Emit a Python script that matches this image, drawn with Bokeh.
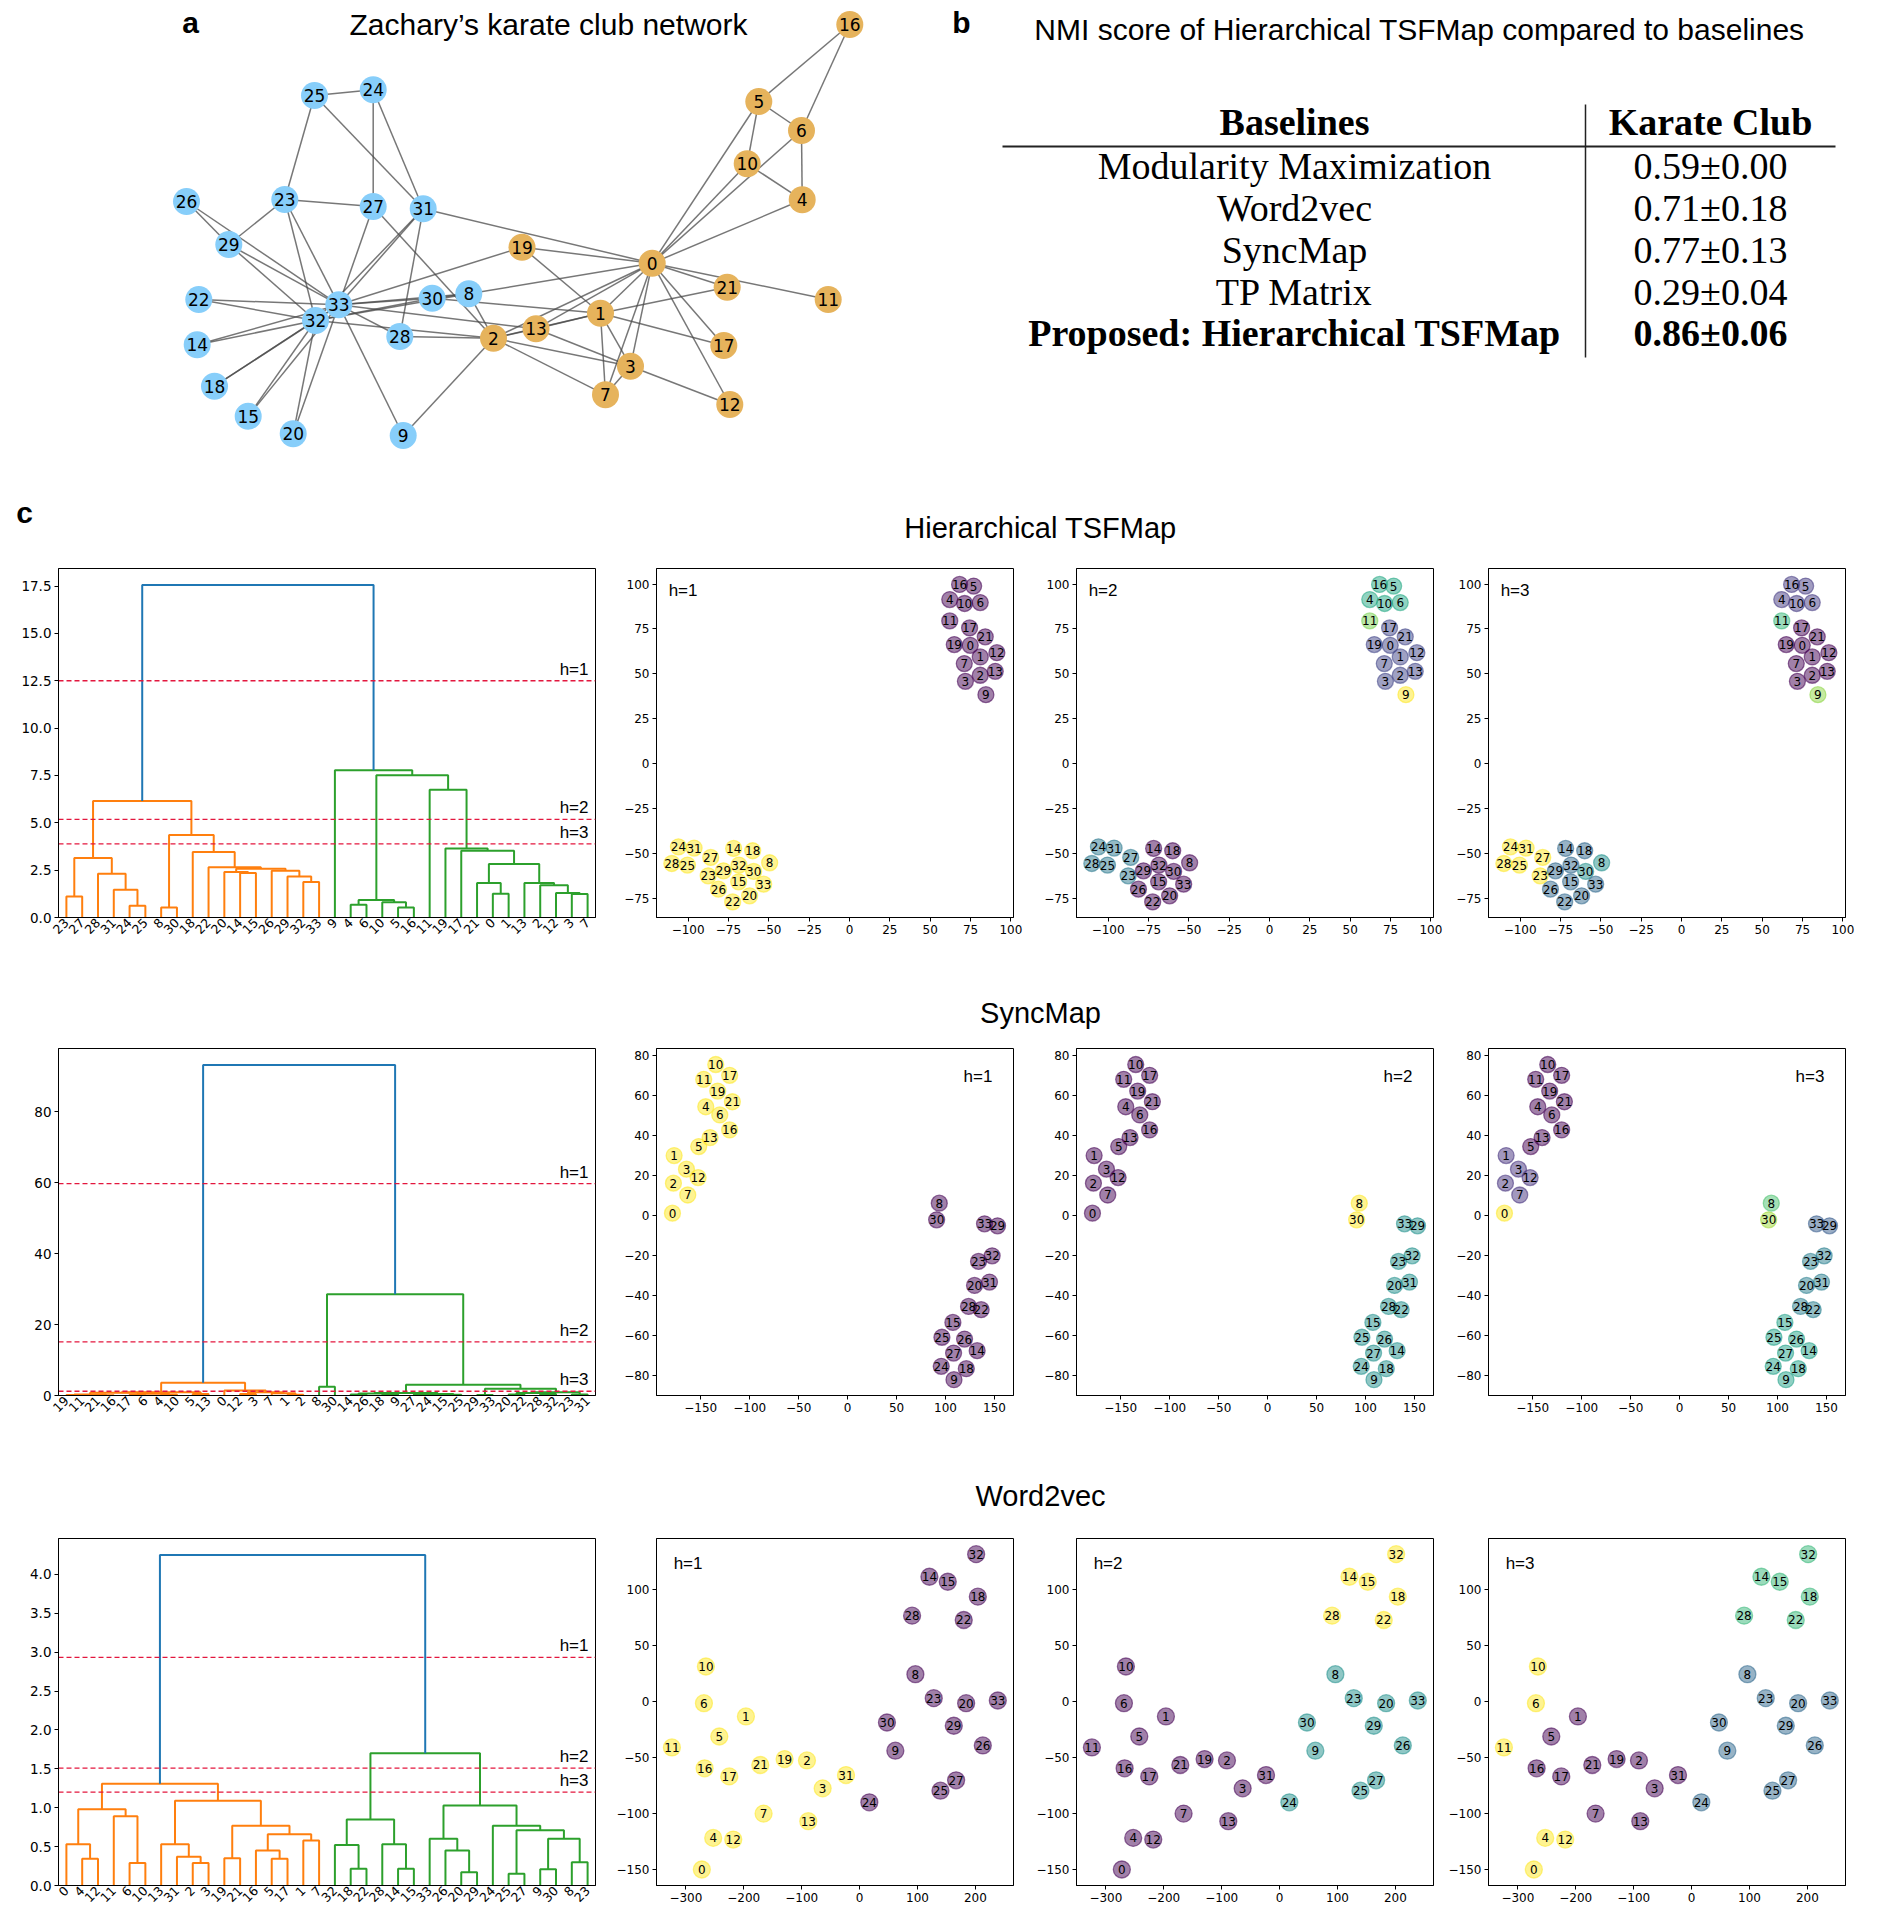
import math
from bokeh.plotting import figure
from bokeh.models import Range1d, FixedTicker, CustomJSTickFormatter
from bokeh.layouts import column, row
from bokeh.embed import file_html
from bokeh.resources import INLINE
from bokeh.core.properties import value
from bokeh.palettes import Viridis256

N = 34
NODE_IDS = list(range(N))

# ---------------- panel a : Zachary karate club network ----------------
net_x = [651.7, 600.0, 493.0, 630.0, 801.7, 758.3, 801.0, 605.0, 468.3, 402.7,
         746.7, 827.7, 729.3, 535.5, 196.7, 247.7, 849.3, 723.3, 214.0, 521.5,
         292.7, 726.7, 198.3, 284.3, 372.7, 314.0, 186.0, 372.7, 399.3, 228.3,
         431.7, 422.7, 315.0, 338.3]
net_y = [262.7, 312.7, 337.7, 365.7, 199.3, 101.0, 130.0, 394.3, 293.3, 435.0,
         163.3, 299.0, 404.0, 328.3, 344.3, 415.7, 24.0, 345.0, 385.7, 246.7,
         433.3, 286.7, 299.0, 199.0, 89.3, 95.0, 201.0, 206.0, 336.0, 244.0,
         297.7, 208.3, 320.0, 304.3]
net_group = [0, 0, 0, 0, 0, 0, 0, 0, 1, 1, 0, 0, 0, 0, 1, 1, 0, 0, 1, 0,
             1, 0, 1, 1, 1, 1, 1, 1, 1, 1, 1, 1, 1, 1]
edge_src = [0]*16 + [1]*8 + [2]*8 + [3]*3 + [4]*2 + [5]*3 + [6] + [8]*3 + [9, 13] + [14]*2 + [15]*2 + \
           [18]*2 + [19] + [20]*2 + [22]*2 + [23]*5 + [24]*3 + [25] + [26]*2 + [27] + [28]*2 + [29]*2 + \
           [30]*2 + [31]*2 + [32]
edge_dst = [1, 2, 3, 4, 5, 6, 7, 8, 10, 11, 12, 13, 17, 19, 21, 31,
            2, 3, 7, 13, 17, 19, 21, 30,
            3, 7, 8, 9, 13, 27, 28, 32,
            7, 12, 13,
            6, 10,
            6, 10, 16,
            16,
            30, 32, 33,
            33, 33,
            32, 33, 32, 33, 32, 33,
            33,
            32, 33, 32, 33,
            25, 27, 29, 32, 33,
            25, 27, 31,
            31,
            29, 33,
            33,
            31, 33, 32, 33, 32, 33, 32, 33,
            33]

# ---------------- panel b : table ----------------
tbl_methods = ["Modularity Maximization", "Word2vec", "SyncMap", "TP Matrix",
               "Proposed: Hierarchical TSFMap"]
tbl_scores = ["0.59\u00b10.00", "0.71\u00b10.18", "0.77\u00b10.13", "0.29\u00b10.04",
              "0.86\u00b10.06"]

# ---------------- panel c : dendrograms (linkage: child a, child b, height) ----------------
tsf_ma = [23, 24, 31, 28, 34, 8, 32, 29, 26, 14, 20, 44, 22, 18, 39, 38,
          4, 5, 10, 50, 0, 21, 3, 12, 2, 13, 55, 17, 19, 11, 53, 9, 49]
tsf_mb = [27, 25, 35, 36, 37, 30, 33, 40, 41, 15, 43, 42, 45, 46, 47, 48,
          6, 16, 51, 52, 1, 54, 7, 56, 57, 58, 59, 60, 61, 62, 63, 64, 65]
tsf_mh = [1.11, 0.62, 1.47, 2.31, 3.14, 0.53, 1.87, 2.17, 2.47, 2.35, 2.40, 2.58, 2.65, 3.46,
          4.35, 6.15, 0.67, 0.53, 0.80, 0.92, 1.25, 1.82, 1.24, 1.29, 1.70, 1.82, 2.83, 3.53,
          3.64, 6.75, 7.51, 7.77, 17.55]
tsf_cuts = [12.5, 5.18, 3.89]

sync_ma = [19, 21, 34, 17, 4, 37, 36, 5, 40, 12, 1, 7, 43, 0, 42, 8, 14, 18, 50, 27, 15,
           53, 52, 29, 20, 28, 58, 23, 60, 57, 56, 49, 48]
sync_mb = [11, 16, 35, 6, 10, 38, 39, 13, 41, 3, 2, 44, 45, 46, 47, 30, 26, 9, 51, 24, 25,
           54, 55, 33, 22, 32, 59, 31, 61, 62, 63, 64, 65]
sync_mh = [0.15, 0.10, 0.30, 0.20, 0.30, 0.50, 0.80, 0.40, 0.95, 0.40, 0.20, 0.60, 0.90, 1.40,
           3.60, 2.46, 0.30, 0.25, 0.55, 0.30, 0.20, 0.45, 0.70, 0.15, 0.30, 0.40, 0.70, 0.25,
           0.90, 1.90, 3.00, 28.5, 93.1]
sync_cuts = [59.7, 15.1, 1.2]

w2v_ma = [4, 0, 6, 11, 35, 2, 31, 13, 19, 5, 16, 1, 44, 42, 41, 38,
          18, 32, 14, 28, 51, 20, 26, 33, 25, 9, 8, 59, 58, 24, 57, 54, 49]
w2v_mb = [12, 34, 10, 36, 37, 3, 39, 40, 21, 17, 43, 7, 45, 46, 47, 48,
          22, 50, 15, 52, 53, 29, 55, 56, 27, 30, 23, 60, 61, 62, 63, 64, 65]
w2v_mh = [0.345, 0.53, 0.29, 0.89, 0.98, 0.29, 0.37, 0.53, 0.35, 0.345, 0.45, 0.58, 0.66,
          0.77, 1.09, 1.31, 0.215, 0.52, 0.215, 0.53, 0.85, 0.17, 0.45, 0.60, 0.15, 0.21,
          0.30, 0.60, 0.71, 0.77, 1.03, 1.70, 4.25]
w2v_cuts = [2.935, 1.51, 1.20]

# ---------------- panel c : 2-D embeddings (index = node id) ----------------
tsf_x = [74.8, 81.0, 81.0, 71.8, 62.1, 76.9, 81.0, 71.1, -49.5, 84.5, 71.3, 62.1, 91.3, 90.3,
         -71.8, -68.7, 68.2, 74.4, -60.0, 64.9, -61.9, 84.1, -72.4, -87.6, -106.0, -100.4,
         -81.2, -86.0, -110.1, -78.1, -59.4, -96.3, -68.5, -53.2]
tsf_y = [65.9, 59.4, 49.2, 45.8, 91.4, 98.9, 89.7, 55.7, -55.3, 38.4, 89.2, 79.5, 61.8, 51.4,
         -47.3, -65.9, 99.8, 75.6, -48.6, 66.3, -73.7, 70.6, -77.1, -62.6, -46.4, -56.6,
         -70.0, -52.3, -55.7, -59.8, -60.1, -47.1, -56.6, -67.2]
tsf_h1 = [0, 0, 0, 0, 0, 0, 0, 0, 1, 0, 0, 0, 0, 0, 1, 1, 0, 0, 1, 0, 1, 0, 1, 1, 1, 1, 1,
          1, 1, 1, 1, 1, 1, 1]
tsf_h2 = [1, 1, 1, 1, 3, 3, 3, 1, 0, 5, 3, 4, 1, 1, 0, 0, 3, 1, 0, 1, 0, 1, 0, 2, 2, 2, 0,
          2, 2, 0, 0, 2, 0, 0]
tsf_h3 = [0, 0, 0, 0, 1, 1, 1, 0, 3, 5, 1, 4, 0, 0, 2, 2, 1, 0, 2, 0, 2, 0, 2, 6, 6, 6, 2,
          6, 6, 2, 3, 6, 2, 2]

sync_x = [-178.9, -177.2, -177.9, -164.6, -144.9, -152.1, -130.6, -163.3, 93.6, 108.6,
          -134.7, -147.0, -152.7, -140.5, 132.3, 107.5, -120.5, -120.5, 121.2, -132.7,
          129.6, -117.7, 136.4, 133.7, 95.6, 96.3, 119.4, 108.2, 123.5, 153.1, 90.9, 144.9,
          147.6, 139.8]
sync_y = [1.0, 29.8, 16.0, 23.0, 54.2, 34.3, 50.1, 10.1, 6.0, -82.2, 75.3, 67.9, 18.8, 38.8,
          -67.7, -53.6, 42.6, 69.9, -76.7, 62.0, -35.1, 56.7, -47.2, -23.1, -75.5, -61.0,
          -61.9, -68.9, -45.6, -5.3, -2.3, -33.4, -20.3, -4.3]
sync_h1 = [1, 1, 1, 1, 1, 1, 1, 1, 0, 0, 1, 1, 1, 1, 0, 0, 1, 1, 0, 1, 0, 1, 0, 0, 0, 0, 0,
           0, 0, 0, 0, 0, 0, 0]
sync_h2 = [0, 0, 0, 0, 0, 0, 0, 0, 2, 1, 0, 0, 0, 0, 1, 1, 0, 0, 1, 0, 1, 0, 1, 1, 1, 1, 1,
           1, 1, 1, 2, 1, 1, 1]
sync_h3 = [7, 1, 1, 1, 0, 0, 0, 1, 5, 4, 0, 0, 1, 0, 4, 4, 0, 0, 4, 0, 3, 0, 3, 3, 4, 4, 4,
           4, 3, 2, 6, 3, 3, 2]

w2v_x = [-272.4, -196.3, -90.9, -63.8, -252.8, -242.3, -268.8, -165.8, 96.3, 61.7, -265.4,
         -324.1, -218.2, -88.6, 120.5, 152.2, -267.6, -225.1, 204.1, -129.5, 183.9, -171.5,
         179.8, 128.0, 16.8, 139.6, 212.7, 166.6, 90.6, 162.6, 47.2, -23.5, 201.2, 238.6]
w2v_y = [-150.3, -13.4, -52.7, -77.7, -122.0, -31.3, -1.5, -100.3, 24.4, -44.0, 31.3, -41.1,
         -123.5, -107.1, 111.6, 107.1, -59.8, -67.0, 93.8, -51.5, -1.5, -56.8, 72.9, 3.0,
         -90.2, -79.8, -39.3, -70.5, 76.8, -21.7, -18.8, -65.8, 131.8, 0.9]
w2v_h1 = [1, 1, 1, 1, 1, 1, 1, 1, 0, 0, 1, 1, 1, 1, 0, 0, 1, 1, 0, 1, 0, 1, 0, 0, 0, 0, 0,
          0, 0, 0, 0, 1, 0, 0]
w2v_h2 = [0, 0, 0, 0, 0, 0, 0, 0, 1, 1, 0, 0, 0, 0, 2, 2, 0, 0, 2, 0, 1, 0, 2, 1, 1, 1, 1,
          1, 2, 1, 1, 0, 2, 1]
w2v_h3 = [3, 0, 0, 0, 3, 0, 3, 0, 1, 1, 3, 3, 3, 0, 2, 2, 0, 0, 2, 0, 1, 0, 2, 1, 1, 1, 1,
          1, 2, 1, 1, 0, 2, 1]

# axis ticks of the embeddings
tsf_xt = [-100, -75, -50, -25, 0, 25, 50, 75, 100]
tsf_yt = [-75, -50, -25, 0, 25, 50, 75, 100]
sync_xt = [-150, -100, -50, 0, 50, 100, 150]
sync_yt = [-80, -60, -40, -20, 0, 20, 40, 60, 80]
w2v_xt = [-300, -200, -100, 0, 100, 200]
w2v_yt = [-150, -100, -50, 0, 50, 100]

# ---------------- styling ----------------
SANS = "Liberation Sans"
DJ = "DejaVu Sans"
SERIF = "Liberation Serif"
ORANGE, GREEN, BLUE = "#ff7f0e", "#2ca02c", "#1f77b4"
RED = "#e3173e"
NET_COLORS = ["#e6b35c", "#87cefa"]
SIGNED = "return (tick < 0 ? '\\u2212' : '') + Math.abs(tick).toString();"


def blank(width, height):
    p = figure(width=width, height=height, x_range=Range1d(0, width), y_range=Range1d(height, 0),
               x_axis_type=None, y_axis_type=None, min_border=0,
               output_backend="svg", toolbar_location=None)
    p.outline_line_color = None
    return p


def put(p, x, y, s, size, font=SANS, style="normal", align="center"):
    p.text(x=[x], y=[y], text=[s], text_font=value(font), text_font_size=size,
           text_font_style=style, text_align=align, text_baseline="middle", text_color="black")


def style_axes(p, tick_size):
    p.grid.visible = False
    p.outline_line_color = "black"
    p.outline_line_width = 1
    for ax in (p.xaxis[0], p.yaxis[0]):
        ax.axis_line_color = "black"
        ax.major_tick_line_color = "black"
        ax.minor_tick_line_color = None
        ax.major_tick_out = 4
        ax.major_tick_in = 0
        ax.major_label_standoff = 3
        ax.major_label_text_font = DJ
        ax.major_label_text_font_size = tick_size
        ax.major_label_text_color = "black"


def dendro(ma, mb, mh, cuts, yticks, fmt, H, mbt, mbb):
    pos, hgt, order = {}, {}, []

    def place(node):
        if node < N:
            pos[node] = 5 + 10 * len(order)
            hgt[node] = 0.0
            order.append(node)
        else:
            k = node - N
            place(ma[k])
            place(mb[k])
            pos[node] = 0.5 * (pos[ma[k]] + pos[mb[k]])
            hgt[node] = mh[k]

    root = N + len(mh) - 1
    place(root)
    side = {}

    def mark(node, c):
        side[node] = c
        if node >= N:
            mark(ma[node - N], c)
            mark(mb[node - N], c)

    mark(ma[root - N], ORANGE)
    mark(mb[root - N], GREEN)
    side[root] = BLUE
    xs, ys, cs = [], [], []
    for k in range(len(mh)):
        a, b = ma[k], mb[k]
        xs.append([pos[a], pos[a], pos[b], pos[b]])
        ys.append([hgt[a], mh[k], mh[k], hgt[b]])
        cs.append(side[N + k])
    xmax = 10 * N
    p = figure(width=600, height=H, x_range=Range1d(0, xmax), y_range=Range1d(0, max(mh) * 1.05),
               min_border_left=58, min_border_right=5, min_border_top=mbt, min_border_bottom=mbb,
               output_backend="svg", toolbar_location=None)
    p.multi_line(xs=xs, ys=ys, line_color=cs, line_width=2)
    for c, lab in zip(cuts, ["h=1", "h=2", "h=3"]):
        p.line(x=[0, xmax], y=[c, c], line_color=RED, line_dash="5 3", line_width=1.3)
        p.text(x=[xmax], y=[c], text=[lab], x_offset=-7, y_offset=-2, text_align="right",
               text_baseline="bottom", text_font=value(SANS), text_font_size="17px",
               text_color="black")
    style_axes(p, "13.5px")
    p.xaxis.ticker = FixedTicker(ticks=[5 + 10 * i for i in range(N)])
    p.xaxis.formatter = CustomJSTickFormatter(args=dict(labs=[str(v) for v in order]),
                                              code="return labs[Math.round((tick - 5) / 10)];")
    p.xaxis.major_tick_out = 0
    p.xaxis.major_label_orientation = math.pi / 4
    p.xaxis.major_label_text_font_size = "12.5px"
    p.yaxis.ticker = FixedTicker(ticks=yticks)
    p.yaxis.formatter = CustomJSTickFormatter(code="return tick.toFixed(%d);" % fmt)
    return p


def scat(xv, yv, cl, xr, yr, xt, yt, hlab, hpos, W, mbl, mbr, H, mbt, mbb, size):
    ncl = max(cl) + 1
    pal = [Viridis256[int(round(255 * i / (ncl - 1)))] for i in range(ncl)]
    cols = [pal[c] for c in cl]
    p = figure(width=W, height=H, x_range=Range1d(*xr), y_range=Range1d(*yr),
               min_border_left=mbl, min_border_right=mbr, min_border_top=mbt, min_border_bottom=mbb,
               output_backend="svg", toolbar_location=None)
    p.scatter(x=xv, y=yv, size=size, fill_color=cols, fill_alpha=0.5, line_color=cols,
              line_alpha=0.55, line_width=1.3)
    p.text(x=xv, y=yv, text=[str(i) for i in NODE_IDS], text_align="center",
           text_baseline="middle", text_font=value(DJ), text_font_size="12px", text_color="black")
    fx, fy, al = hpos
    hx = xr[0] + fx * (xr[1] - xr[0]) if al == "left" else xr[1] - fx * (xr[1] - xr[0])
    hy = yr[1] - fy * (yr[1] - yr[0])
    p.text(x=[hx], y=[hy], text=[hlab], text_align=al, text_baseline="middle",
           text_font=value(SANS), text_font_size="17px", text_color="black")
    style_axes(p, "12px")
    p.xaxis.ticker = FixedTicker(ticks=xt)
    p.yaxis.ticker = FixedTicker(ticks=yt)
    p.xaxis.formatter = CustomJSTickFormatter(code=SIGNED)
    p.yaxis.formatter = CustomJSTickFormatter(code=SIGNED)
    return p


# ---------------- top: panels a and b ----------------
top = blank(1880, 470)
top.segment(x0=[net_x[a] for a in edge_src], y0=[net_y[a] for a in edge_src],
            x1=[net_x[b] for b in edge_dst], y1=[net_y[b] for b in edge_dst],
            line_color="#4a4a4a", line_alpha=0.75, line_width=1.5)
top.scatter(x=net_x, y=net_y, size=27, fill_color=[NET_COLORS[g] for g in net_group],
            line_color=None)
top.text(x=net_x, y=net_y, text=[str(i) for i in NODE_IDS], text_align="center",
         text_baseline="middle", text_font=value(DJ), text_font_size="17px", text_color="black")
put(top, 190, 22, "a", "30px", style="bold")
put(top, 548, 24, "Zachary\u2019s karate club network", "30px")
put(top, 961, 22, "b", "30px", style="bold")
put(top, 1419, 29, "NMI score of Hierarchical TSFMap compared to baselines", "30px")

tbl_y = [165, 207, 249, 291, 332]
put(top, 1294, 121, "Baselines", "38px", font=SERIF, style="bold")
put(top, 1710, 121, "Karate Club", "38px", font=SERIF, style="bold")
for i, (m, s) in enumerate(zip(tbl_methods, tbl_scores)):
    st = "bold" if i == len(tbl_methods) - 1 else "normal"
    put(top, 1294, tbl_y[i], m, "38px", font=SERIF, style=st)
    put(top, 1710, tbl_y[i], s, "38px", font=SERIF, style=st)
top.segment(x0=[1002], y0=[146], x1=[1835], y1=[146], line_color="#222222", line_width=2)
top.segment(x0=[1585], y0=[104], x1=[1585], y1=[357], line_color="#222222", line_width=1.5)

# ---------------- section strips ----------------
strip1 = blank(1880, 85)
put(strip1, 24, 42, "c", "30px", style="bold")
put(strip1, 1040, 57, "Hierarchical TSFMap", "29px")
strip2 = blank(1880, 45)
put(strip2, 1040, 22, "SyncMap", "29px")
strip3 = blank(1880, 45)
put(strip3, 1040, 20, "Word2vec", "29px")

# ---------------- rows ----------------
COLS = [(425, 56, 12), (420, 51, 12), (435, 43, 35)]


def build_row(ma, mb, mh, cuts, yticks, fmt, xv, yv, hs, xr, yr, xt, yt, hpos, H, mbt, mbb, size):
    figs = [dendro(ma, mb, mh, cuts, yticks, fmt, H, mbt, mbb)]
    for (W, l, r), cl, lab in zip(COLS, hs, ["h=1", "h=2", "h=3"]):
        figs.append(scat(xv, yv, cl, xr, yr, xt, yt, lab, hpos, W, l, r, H, mbt, mbb, size))
    return row(*figs)


row1 = build_row(tsf_ma, tsf_mb, tsf_mh, tsf_cuts, [0, 2.5, 5, 7.5, 10, 12.5, 15, 17.5], 1,
                 tsf_x, tsf_y, [tsf_h1, tsf_h2, tsf_h3], (-119.6, 101.6), (-85.8, 108.7),
                 tsf_xt, tsf_yt, (0.034, 0.063, "left"), 435, 13, 73, 16)
row2 = build_row(sync_ma, sync_mb, sync_mh, sync_cuts, [0, 20, 40, 60, 80], 0,
                 sync_x, sync_y, [sync_h1, sync_h2, sync_h3], (-195.2, 169.4), (-90.1, 83.3),
                 sync_xt, sync_yt, (0.059, 0.081, "right"), 440, 13, 80, 16)
row3 = build_row(w2v_ma, w2v_mb, w2v_mh, w2v_cuts, [0, 0.5, 1, 1.5, 2, 2.5, 3, 3.5, 4], 1,
                 w2v_x, w2v_y, [w2v_h1, w2v_h2, w2v_h3], (-350.7, 265.7), (-164.6, 145.8),
                 w2v_xt, w2v_yt, (0.048, 0.072, "left"), 400, 18, 35, 17)

layout = column(top, strip1, row1, strip2, row2, strip3, row3)
open("out.html", "w", encoding="utf-8").write(file_html(layout, INLINE))
